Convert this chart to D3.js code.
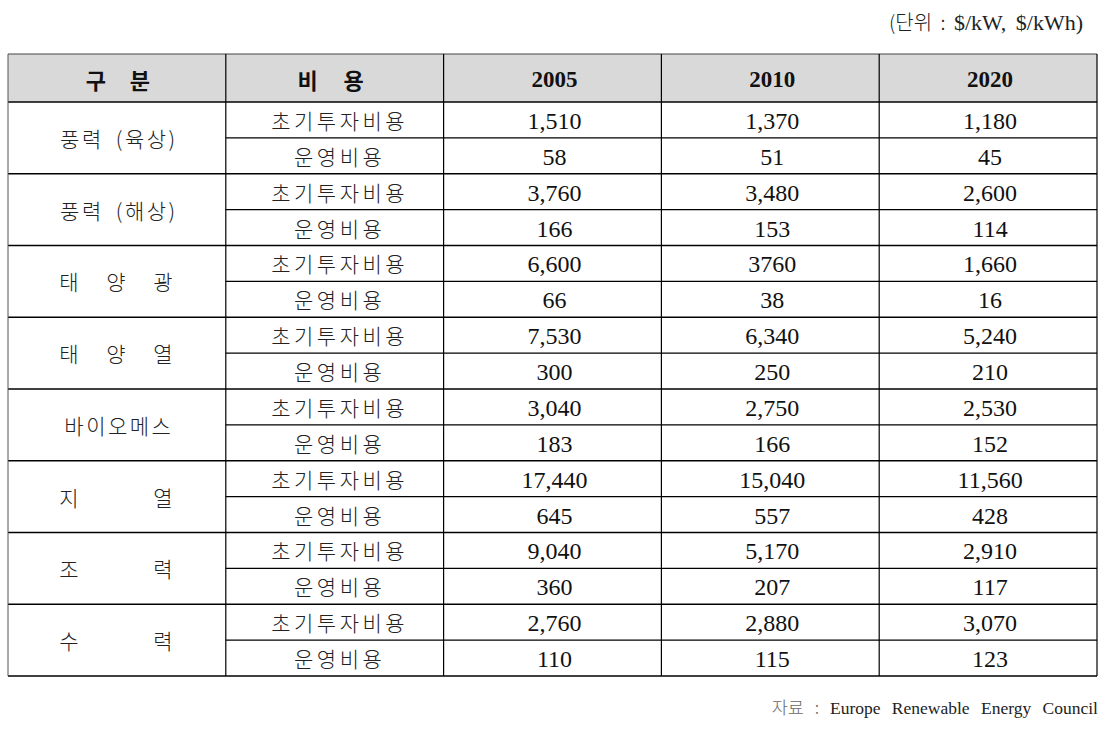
<!DOCTYPE html>
<html><head><meta charset="utf-8">
<script src="https://cdn.jsdelivr.net/npm/d3@7"></script>
<style>
html,body{margin:0;padding:0;background:#fff;}
svg{display:block;}
</style></head>
<body>
<svg id="chart" width="1110" height="731"></svg>
<script>
// ---- data ----
const categories = ["풍력 (육상)", "풍력 (해상)", "태양광", "태양열", "바이오메스", "지열", "조력", "수력"];
const costTypes = ["초기투자비용", "운영비용"];
const years = ["2005", "2010", "2020"];
const headerLabels = ["구 분", "비 용"];
const initialCost2005 = ["1,510", "3,760", "6,600", "7,530", "3,040", "17,440", "9,040", "2,760"];
const initialCost2010 = ["1,370", "3,480", "3760", "6,340", "2,750", "15,040", "5,170", "2,880"];
const initialCost2020 = ["1,180", "2,600", "1,660", "5,240", "2,530", "11,560", "2,910", "3,070"];
const operCost2005 = ["58", "166", "66", "300", "183", "645", "360", "110"];
const operCost2010 = ["51", "153", "38", "250", "166", "557", "207", "115"];
const operCost2020 = ["45", "114", "16", "210", "152", "428", "117", "123"];
const unitLabel = "(단위 :";
const unitText = "$/kW, $/kWh)";
const sourceLabel = "자료 :";
const sourceText = "Europe Renewable Energy Council";

const initial = [initialCost2005, initialCost2010, initialCost2020];
const oper = [operCost2005, operCost2010, operCost2020];

// ---- layout ----
const svg = d3.select("#chart");
const left = 8, right = 1097, headTop = 54, headBottom = 102, bottom = 676;
const cols = ["cat", "type", ...years];
const x = d3.scaleBand().domain(cols).range([left, right]);
const rowIds = [];
categories.forEach((c, i) => costTypes.forEach((t, j) => rowIds.push(i + "-" + j)));
const y = d3.scaleBand().domain(rowIds).range([headBottom, bottom]);

const serif = "'Liberation Serif', 'DejaVu Serif', serif";
const kr = "'Noto Sans CJK KR', 'Noto Sans', sans-serif";

// header background
svg.append("rect").attr("x", left).attr("y", headTop).attr("width", right - left)
  .attr("height", headBottom - headTop).attr("fill", "#d9d9d9");

function applyStyle(sel, attrs) { Object.entries(attrs).forEach(([k, v]) => sel.style(k, v)); return sel; }
function spreadChars(g, chars, cx, cy, half, attrs) {
  const n = chars.length;
  chars.forEach((ch, k) => {
    const px = n === 1 ? cx : cx - half + (2 * half) * k / (n - 1);
    const t = g.append("text").attr("x", px).attr("y", cy).attr("text-anchor", "middle")
      .attr("dominant-baseline", "central").text(ch);
    applyStyle(t, attrs);
  });
}
const hy = (headTop + headBottom) / 2;
const hg = svg.append("g");
const headStyle = {"font-family": kr, "font-weight": "700", "font-size": "22px", "fill": "#111"};
spreadChars(hg, headerLabels[0].split(" "), x("cat") + x.bandwidth() / 2 + 1, hy + 1, 22, headStyle);
spreadChars(hg, headerLabels[1].split(" "), x("type") + x.bandwidth() / 2 - 4, hy + 1, 23, headStyle);
years.forEach(yr => {
  hg.append("text").attr("x", x(yr) + x.bandwidth() / 2 + 2).attr("y", hy + 1)
    .attr("text-anchor", "middle").attr("dominant-baseline", "central")
    .style("font-family", serif).style("font-weight", "700").style("font-size", "23px")
    .style("fill", "#111").text(yr);
});

// body
const bg = svg.append("g");
categories.forEach((cat, i) => {
  const y0 = y(i + "-0"), y1 = y(i + "-1") + y.bandwidth();
  const cy = (y0 + y1) / 2;
  const cx = x("cat") + x.bandwidth() / 2;
  const style = {"font-family": kr, "font-weight": "300", "font-size": "21px", "fill": "#222",
                 "letter-spacing": "2.5px", "word-spacing": "5px"};
  if (cat.length <= 3 && cat.indexOf(" ") < 0) {
    spreadChars(bg, cat.split(""), cx - 1, cy, 47, {"font-family": kr, "font-weight": "300", "font-size": "21px", "fill": "#222"});
  } else {
    const t = bg.append("text").attr("x", cx + 2).attr("y", cy).attr("text-anchor", "middle")
      .attr("dominant-baseline", "central").text(cat);
    applyStyle(t, style);
  }
  costTypes.forEach((ct, j) => {
    const ry = y(i + "-" + j) + y.bandwidth() / 2;
    bg.append("text").attr("x", x("type") + x.bandwidth() / 2 + 5).attr("y", ry)
      .attr("text-anchor", "middle").attr("dominant-baseline", "central")
      .style("font-family", kr).style("font-weight", "300").style("font-size", "21px")
      .style("letter-spacing", "3.5px").style("fill", "#222").text(ct);
    const vals = j === 0 ? initial : oper;
    years.forEach((yr, k) => {
      bg.append("text").attr("x", x(yr) + x.bandwidth() / 2 + 2).attr("y", ry + 1)
        .attr("text-anchor", "middle").attr("dominant-baseline", "central")
        .style("font-family", serif).style("font-size", "24px").style("fill", "#111")
        .text(vals[k][i]);
    });
  });
});

// grid lines
const lg = svg.append("g").attr("stroke", "#000").attr("fill", "none");
lg.append("line").attr("x1", left).attr("x2", right).attr("y1", headTop).attr("y2", headTop).attr("stroke-width", 1.2).attr("stroke", "#444");
lg.append("line").attr("x1", left).attr("x2", right).attr("y1", headBottom).attr("y2", headBottom).attr("stroke-width", 1.5);
categories.forEach((c, i) => {
  const yb = y(i + "-1") + y.bandwidth();
  lg.append("line").attr("x1", left).attr("x2", right).attr("y1", yb).attr("y2", yb).attr("stroke-width", 1.6);
  const ym = y(i + "-1");
  lg.append("line").attr("x1", x("type")).attr("x2", right).attr("y1", ym).attr("y2", ym).attr("stroke-width", 1.2);
});
[left, x("type"), ...years.map(v => x(v)), right].forEach((xv, k) => {
  lg.append("line").attr("x1", xv).attr("x2", xv).attr("y1", headTop).attr("y2", bottom)
    .attr("stroke-width", (k === 0) ? 1 : 1.2).attr("stroke", k === 0 ? "#555" : "#000");
});

// unit text & source
const unit = svg.append("text").attr("x", 1083).attr("y", 30).attr("text-anchor", "end")
  .style("font-size", "22px").style("fill", "#222").style("word-spacing", "4px");
unit.append("tspan").style("font-family", kr).style("font-weight", "300").style("font-size", "20px").text(unitLabel + " ");
unit.append("tspan").style("font-family", serif).text(unitText);
const src = svg.append("text").attr("x", 1098).attr("y", 714).attr("text-anchor", "end")
  .style("font-size", "17.5px").style("word-spacing", "7px");
src.append("tspan").style("font-family", kr).style("font-weight", "300").style("fill", "#666").text(sourceLabel + " ");
src.append("tspan").style("font-family", serif).style("fill", "#222").text(sourceText);
</script>
</body></html>
